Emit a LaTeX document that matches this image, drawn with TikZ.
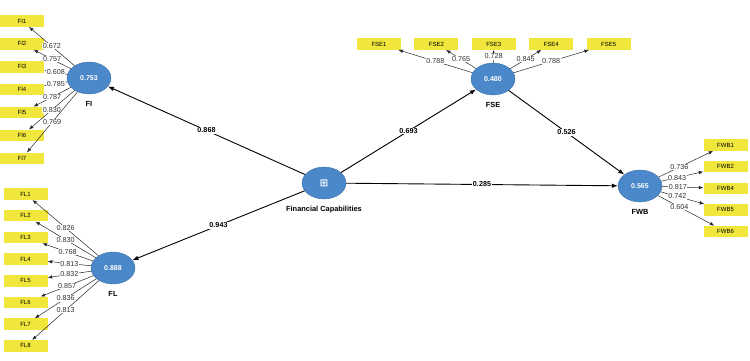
\documentclass[tikz,border=0pt]{standalone}
\usepackage{fontspec}
\setmainfont{Liberation Sans}
\newfontfamily\symfont{DejaVu Sans}
\usetikzlibrary{shapes.geometric,arrows.meta,positioning}
\definecolor{latblue}{HTML}{4A88C9}
\definecolor{indyel}{HTML}{F0E63C}

\begin{document}
\begin{tikzpicture}[x=1pt,y=-1pt,font=\fontsize{6.5}{7}\selectfont,
  lat/.style={ellipse,draw=latblue!85!black,line width=0.4pt,fill=latblue,minimum width=44pt,minimum height=32pt,inner sep=0pt,text=white,font=\fontsize{7}{8}\selectfont\bfseries},
  ind/.style={rectangle,fill=indyel,minimum width=44pt,minimum height=11.5pt,inner sep=0pt,font=\fontsize{6}{7}\selectfont},
  tag/.style={font=\fontsize{7.4}{8}\selectfont\bfseries,inner sep=1pt},
  ldg/.style={-{Latex[length=4.5pt,width=3.5pt]},line width=0.5pt,black!85},
  pth/.style={-{Latex[length=6pt,width=4.5pt]},line width=0.9pt},
  lv/.style={fill=white,inner sep=0.6pt,text=black!80,font=\fontsize{7.2}{8}\selectfont},
  pv/.style={fill=white,inner sep=0.8pt,font=\fontsize{7.2}{8}\selectfont\bfseries}]
\useasboundingbox (0,0) rectangle (750,361);
% latent variables
\node[lat] (fc) at (324,183) {{\symfont\fontsize{10}{10}\selectfont ⊞}};
\node[lat] (fi) at (89,78) {0.753};
\node[lat] (fl) at (113,268) {0.888};
\node[lat] (fse) at (493,79) {0.480};
\node[lat] (fwb) at (640,186) {0.565};
\node[tag,below=6pt of fc] {Financial Capabilities};
\node[tag,below=6pt of fi] {FI};
\node[tag,below=6pt of fl] {FL};
\node[tag,below=6pt of fse] {FSE};
\node[tag,below=6pt of fwb] {FWB};
% indicators
\node[ind] (fi1) at (22,21) {FI1};
\node[ind,below=11pt of fi1] (fi2) {FI2};
\node[ind,below=11pt of fi2] (fi3) {FI3};
\node[ind,below=11pt of fi3] (fi4) {FI4};
\node[ind,below=11pt of fi4] (fi5) {FI5};
\node[ind,below=11pt of fi5] (fi6) {FI6};
\node[ind,below=11pt of fi6] (fi7) {FI7};
\node[ind] (fl1) at (25.5,194) {FL1};
\node[ind,below=9.8pt of fl1] (fl2) {FL2};
\node[ind,below=9.8pt of fl2] (fl3) {FL3};
\node[ind,below=9.8pt of fl3] (fl4) {FL4};
\node[ind,below=9.8pt of fl4] (fl5) {FL5};
\node[ind,below=9.8pt of fl5] (fl6) {FL6};
\node[ind,below=9.8pt of fl6] (fl7) {FL7};
\node[ind,below=9.8pt of fl7] (fl8) {FL8};
\node[ind] (fse1) at (379,44) {FSE1};
\node[ind,right=13pt of fse1] (fse2) {FSE2};
\node[ind,right=13pt of fse2] (fse3) {FSE3};
\node[ind,right=13pt of fse3] (fse4) {FSE4};
\node[ind,right=13pt of fse4] (fse5) {FSE5};
\node[ind] (fwb1) at (725.5,145) {FWB1};
\node[ind,below=9.75pt of fwb1] (fwb2) {FWB2};
\node[ind,below=9.75pt of fwb2] (fwb4) {FWB4};
\node[ind,below=9.75pt of fwb4] (fwb5) {FWB5};
\node[ind,below=9.75pt of fwb5] (fwb6) {FWB6};
% outer loadings
\draw[ldg] (fi)--node[lv]{0.672}(fi1);
\draw[ldg] (fi)--node[lv]{0.757}(fi2);
\draw[ldg] (fi)--node[lv]{0.608}(fi3);
\draw[ldg] (fi)--node[lv]{0.785}(fi4);
\draw[ldg] (fi)--node[lv]{0.787}(fi5);
\draw[ldg] (fi)--node[lv]{0.830}(fi6);
\draw[ldg] (fi)--node[lv]{0.769}(fi7);
\draw[ldg] (fl)--node[lv]{0.826}(fl1);
\draw[ldg] (fl)--node[lv]{0.830}(fl2);
\draw[ldg] (fl)--node[lv]{0.768}(fl3);
\draw[ldg] (fl)--node[lv]{0.813}(fl4);
\draw[ldg] (fl)--node[lv]{0.832}(fl5);
\draw[ldg] (fl)--node[lv]{0.857}(fl6);
\draw[ldg] (fl)--node[lv]{0.836}(fl7);
\draw[ldg] (fl)--node[lv]{0.813}(fl8);
\draw[ldg] (fse)--node[lv]{0.788}(fse1);
\draw[ldg] (fse)--node[lv]{0.765}(fse2);
\draw[ldg] (fse)--node[lv]{0.728}(fse3);
\draw[ldg] (fse)--node[lv]{0.845}(fse4);
\draw[ldg] (fse)--node[lv]{0.788}(fse5);
\draw[ldg] (fwb)--node[lv,pos=0.38]{0.736}(fwb1);
\draw[ldg] (fwb)--node[lv,pos=0.38]{0.843}(fwb2);
\draw[ldg] (fwb)--node[lv,pos=0.38]{0.817}(fwb4);
\draw[ldg] (fwb)--node[lv,pos=0.38]{0.742}(fwb5);
\draw[ldg] (fwb)--node[lv,pos=0.38]{0.604}(fwb6);
% inner model
\draw[pth] (fc)--node[pv]{0.868}(fi);
\draw[pth] (fc)--node[pv]{0.943}(fl);
\draw[pth] (fc)--node[pv]{0.693}(fse);
\draw[pth] (fc)--node[pv]{0.285}(fwb);
\draw[pth] (fse)--node[pv]{0.526}(fwb);
\end{tikzpicture}
\end{document}
